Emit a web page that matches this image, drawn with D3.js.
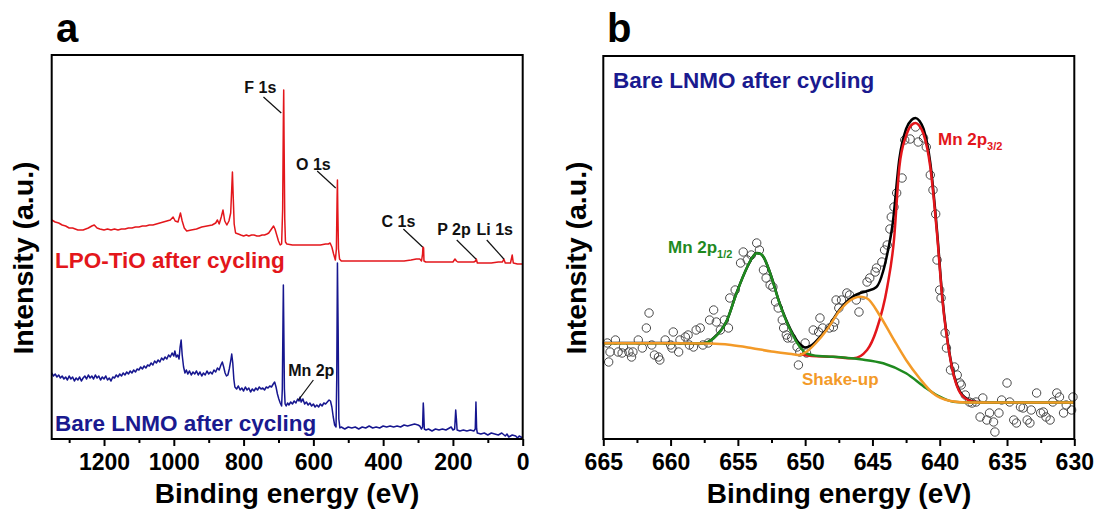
<!DOCTYPE html>
<html>
<head>
<meta charset="utf-8">
<script src="https://cdn.jsdelivr.net/npm/d3@7/dist/d3.min.js"></script>
<style>
  body { margin: 0; background: #fff; }
  text { font-family: Arial, "Liberation Sans", sans-serif; font-weight: bold; }
</style>
</head>
<body>
<div id="chart"></div>
<script>
// Page size
var w = 1097;
var h = 514;

// ---- Panel a: survey spectra, [binding energy, intensity] ----
const lpoSpectrum = [
  [1350,219],[1340,217],[1330,216],[1320,214],[1310,213],[1300,211],[1290,211],[1275,209],[1260,209],
  [1245,211],[1235,213],[1228,214],[1220,211],[1212,210],[1200,209],[1190,210],[1180,209],[1170,210],
  [1160,209],[1150,210],[1140,210],[1130,211],[1120,211],[1110,212],[1100,212],[1090,213],[1080,213],
  [1070,214],[1060,214],[1050,215],[1040,216],[1030,217],[1020,218],[1010,219],[1002,222],[996,218],
  [988,217],[981,226],[976,218],[970,211],[963,208],[950,209],[935,210],[920,212],[905,213],[890,214],
  [880,216],[875,219],[870,215],[864,222],[859,229],[854,218],[848,214],[842,218],[837,226],[834,250],
  [832,267],[830,245],[827,215],[823,206],[815,205],[808,204],[800,203],[792,204],[785,203],[777,204],
  [770,204],[762,203],[755,203],[747,204],[740,204],[733,205],[728,206],[720,210],[714,213],[710,210],
  [705,204],[700,198],[695,194],[691,195],[688,230],[686,320],[685,349],[684,300],[682,220],[680,197],
  [676,195],[660,194],[640,194],[620,194],[600,194],[580,194],[565,195],[557,195],[552,196],[547,192],
  [542,185],[537,179],[534,190],[532,240],[531,259],[530,230],[528,190],[525,180],[520,178],[500,178],
  [460,178],[420,178],[380,178],[340,178],[320,179],[305,180],[295,180],[290,178],[287,185],[286,192],
  [284,191],[283,178],[278,177],[260,177],[240,177],[220,177],[200,177],[194,180],[190,178],[186,177],
  [160,177],[140,177],[135,178],[133,180],[130,176],[110,176],[90,176],[70,177],[58,177],[54,180],
  [50,176],[35,176],[30,184],[27,176],[15,175],[5,175],[0,175]
];

const lnmoSpectrum = [
  [1350,66],[1345,63],[1340,65],[1335,62],[1330,64],[1325,61],[1320,63],[1315,60],[1310,62],[1305,59],
  [1300,63],[1295,60],[1290,62],[1285,58],[1280,61],[1275,59],[1270,62],[1265,58],[1260,61],[1255,63],
  [1250,60],[1245,64],[1240,61],[1235,63],[1230,60],[1225,64],[1220,61],[1215,63],[1210,59],[1205,62],
  [1200,60],[1195,63],[1190,59],[1185,61],[1180,58],[1175,62],[1170,61],[1165,64],[1160,62],[1155,65],
  [1150,63],[1145,66],[1140,64],[1135,67],[1130,65],[1125,68],[1120,66],[1115,69],[1110,67],[1105,70],
  [1100,69],[1095,72],[1090,70],[1085,73],[1080,71],[1075,74],[1070,73],[1065,76],[1060,74],[1055,78],
  [1050,76],[1045,79],[1040,77],[1035,81],[1030,79],[1025,82],[1020,80],[1015,84],[1010,82],[1005,86],
  [1000,83],[997,88],[993,82],[989,84],[985,80],[982,92],[979,99],[976,84],[972,72],[968,66],[964,69],
  [960,65],[955,68],[950,64],[945,67],[940,65],[935,68],[930,64],[925,67],[920,63],[915,66],[910,64],
  [905,68],[900,65],[895,67],[890,65],[885,69],[880,67],[875,71],[870,69],[865,74],[861,77],[857,72],
  [853,66],[849,63],[845,64],[841,70],[837,78],[834,85],[831,76],[828,60],[825,52],[820,50],[815,53],
  [810,49],[805,51],[800,48],[795,52],[790,49],[785,51],[780,47],[775,50],[770,48],[765,51],[760,49],
  [755,52],[750,50],[745,51],[740,49],[735,52],[730,51],[725,53],[720,52],[715,55],[711,57],[707,52],
  [703,45],[699,40],[695,36],[691,33],[689,50],[687,120],[686,154],[685,120],[683,50],[681,35],[678,33],
  [674,36],[670,34],[665,37],[660,35],[655,38],[650,36],[645,40],[641,38],[638,42],[635,37],[630,40],
  [625,35],[620,37],[615,34],[610,36],[605,33],[600,35],[595,32],[590,34],[585,32],[580,35],[575,33],
  [570,36],[565,35],[560,37],[555,39],[551,38],[547,32],[543,22],[539,14],[535,12],[533,60],[531,176],
  [529,110],[527,20],[524,11],[520,12],[510,10],[500,12],[490,11],[480,12],[470,10],[460,12],[450,11],
  [440,13],[430,11],[420,12],[410,11],[400,13],[390,12],[380,13],[370,12],[360,13],[350,12],[340,14],
  [330,13],[320,14],[310,15],[300,14],[295,13],[290,10],[287,12],[285,36],[284,30],[282,10],[277,9],
  [270,10],[260,8],[250,10],[240,9],[230,10],[220,9],[210,11],[205,12],[200,9],[195,10],[192,29],
  [190,20],[188,9],[180,8],[170,9],[160,8],[150,9],[140,8],[136,10],[134,37],[132,10],[130,6],[120,5],
  [110,6],[100,4],[90,6],[80,5],[70,4],[60,6],[50,3],[45,5],[40,2],[30,4],[20,3],[15,1],[10,3],[5,2],[0,1]
];

// peak labels: text, leader end (E, I), leader start (E, I), text centre (E, I)
const peakLabels = [
  { text: "F 1s",  end: [692, 326], start: [743, 342], at: [752, 346] },
  { text: "O 1s",  end: [536, 251], start: [589, 268], at: [600, 269] },
  { text: "C 1s",  end: [287, 192], start: [342, 210], at: [356, 212] },
  { text: "P 2p",  end: [134, 180], start: [189, 199], at: [197, 204] },
  { text: "Li 1s", end: [54, 180],  start: [103, 199], at: [80, 204] },
  { text: "Mn 2p", end: [643, 39],  start: [600, 59],  at: [606, 63] }
];

const aMajorTicks = [1200, 1000, 800, 600, 400, 200, 0];
const aMinorTicks = [1300, 1100, 900, 700, 500, 300, 100];

// ---- Panel b: Mn 2p region, [binding energy, intensity] ----
const mnPoints = [
  [664.7,96],[664.6,77],[664.5,87],[664.1,99],[663.9,87],[663.6,86],[663.5,92],[663.1,87],[662.9,82],
  [662.8,87],[662.4,99],[662.1,91],[661.8,111],[661.6,126],[661.4,94],[661.2,84],[660.9,82],[660.8,79],
  [660.4,99],[660.0,94],[659.9,91],[659.8,107],[659.4,87],[659.3,99],[658.9,102],[658.7,104],[658.6,94],
  [658.3,92],[658.1,109],[657.8,111],[657.6,94],[657.2,96],[657.1,119],[656.8,129],[656.6,117],[656.3,109],
  [656.0,119],[655.7,111],[655.6,141],[655.2,149],[654.8,176],[654.6,187],[654.3,179],[654.0,184],
  [653.6,196],[653.4,189],[653.1,169],[652.9,161],[652.6,154],[652.4,152],[652.2,137],[652.0,131],
  [651.7,119],[651.6,111],[651.4,104],[651.3,101],[651.0,101],[650.6,92],[650.5,74],[650.4,87],
  [650.0,96],[649.9,86],[649.4,109],[649.0,107],[648.9,121],[648.7,111],[648.2,111],[647.9,112],
  [647.8,117],[647.7,139],[647.5,131],[647.3,139],[646.9,146],[646.7,144],[646.2,139],[646.0,127],
  [645.7,144],[645.4,157],[645.2,161],[644.8,167],[644.7,171],[644.3,177],[644.1,189],[643.9,194],
  [643.7,210],[643.6,222],[643.4,232],[643.2,246],[642.8,261],[642.6,299],[642.2,300],[641.8,312],
  [641.6,297],[641.2,301],[641.0,292],[640.7,264],[640.5,249],[640.3,225],[640.2,179],[640.0,149],
  [639.9,141],[639.6,106],[639.5,91],[639.2,69],[638.9,72],[638.7,64],[638.5,56],[638.4,54],[638.1,44],
  [637.8,37],[637.6,36],[637.3,37],[637.0,22],[636.8,41],[636.5,19],[636.3,26],[636.0,17],[635.9,7],
  [635.6,26],[635.4,39],[635.0,56],[634.8,37],[634.5,19],[634.3,16],[634.0,32],[633.8,31],[633.5,19],
  [633.3,16],[633.2,29],[632.8,46],[632.5,26],[632.3,27],[632.1,22],[631.8,19],[631.6,37],[631.3,46],
  [631.1,42],[630.8,26],[630.6,34],[630.2,29],[630.1,42]
];

const envelopeFit = [
  [665,96],[660,96],[657.6,95.5],[656.8,101],[655.8,119],[655.1,146],[654.3,172],[653.9,182],[653.6,186],
  [653.3,185],[653.1,182],[652.6,166],[651.9,136],[651.1,110],[650.4,95],[650.0,91.5],[649.5,94],
  [648.9,102],[648.4,110],[647.4,130],[646.4,143],[645.9,146],[645.4,148],[644.7,152],[644.2,168],
  [643.9,185],[643.5,215],[643.0,280],[642.5,310],[642.1,319],[641.8,321],[641.5,318],[641.2,310],
  [640.7,276],[640.2,208],[639.8,141],[639.2,80],[638.6,50],[637.9,39.5],[637.3,37],[635,36.5],[630,36.5]
];

const mn32Fit = [
  [650.4,85],[649.5,83],[648,82.3],[646.4,80.7],[645.4,89],[644.7,109],[643.9,152],[643.4,199],
  [643.0,272],[642.5,303],[642.1,314],[641.8,316],[641.5,313],[641.2,305],[640.7,272],[640.2,205],
  [639.8,139],[639.2,79],[638.6,49],[637.9,39],[637.3,37],[636.5,36.5]
];

const mn12Fit = [
  [665,95.7],[658,95.7],[657.6,95.5],[656.8,100.7],[655.8,119],[655.1,145.7],[654.3,172.3],[653.9,182],
  [653.6,185.7],[653.3,185],[653.1,182.3],[652.6,165.7],[651.9,135.7],[651.1,109],[650.4,92.3],
  [649.9,85.7],[649,83],[647.9,82.3],[645.9,79.7],[644.2,75.7],[642.5,65.7],[641,50.7],[640,42.3],
  [639,37.3],[638,36.5],[630,36.5]
];

const shakeUpFit = [
  [665,95.7],[660,95.7],[657,95.5],[655.5,94],[654,91],[652.5,87.5],[651,85],[650.4,84],[649.9,87.3],
  [649.2,96],[648.4,109],[647.4,129],[646.4,140.7],[645.9,142.3],[645.4,140.7],[644.4,122.3],[643.4,99],
  [642.5,79],[641.5,60.7],[640.5,45.7],[639.2,38],[638,36.5],[635,36.5],[630,36.5]
];

const bMajorTicks = [665, 660, 655, 650, 645, 640, 635, 630];
const bMinorTicks = [662.5, 657.5, 652.5, 647.5, 642.5, 637.5, 632.5];

function drawFrame(svg, x0, y0, x1, y1) {
  svg.append("rect")
    .attr("x", x0)
    .attr("y", y0)
    .attr("width", x1 - x0)
    .attr("height", y1 - y0)
    .attr("fill", "none")
    .attr("stroke", "#000")
    .attr("stroke-width", 2);
}

function drawXAxis(svg, xScale, yPos, major, minor) {
  const majorAxis = d3.axisBottom(xScale)
    .tickValues(major)
    .tickSize(7)
    .tickPadding(8)
    .tickFormat(d3.format("d"));

  const g = svg.append("g")
    .attr("transform", "translate(0," + yPos + ")")
    .call(majorAxis);
  g.select(".domain").remove();
  g.selectAll("line").attr("stroke", "#000").attr("stroke-width", 2);
  g.selectAll("text")
    .style("font-size", "23px")
    .style("font-weight", "bold")
    .style("font-family", "Arial, 'Liberation Sans', sans-serif")
    .attr("fill", "#000");

  const minorAxis = d3.axisBottom(xScale)
    .tickValues(minor)
    .tickSize(4)
    .tickFormat("");
  const gm = svg.append("g")
    .attr("transform", "translate(0," + yPos + ")")
    .call(minorAxis);
  gm.select(".domain").remove();
  gm.selectAll("line").attr("stroke", "#000").attr("stroke-width", 2);
}

function axisTitles(svg, cx, cy, ylabelX) {
  svg.append("text")
    .attr("x", cx)
    .attr("y", 503)
    .attr("text-anchor", "middle")
    .style("font-size", "28px")
    .text("Binding energy (eV)");

  svg.append("text")
    .attr("transform", "translate(" + ylabelX + "," + cy + ") rotate(-90)")
    .attr("text-anchor", "middle")
    .style("font-size", "28.5px")
    .text("Intensity (a.u.)");
}

function createLine(svg, data, xScale, yScale, color, width, curve) {
  const line = d3.line()
    .x(d => xScale(d[0]))
    .y(d => yScale(d[1]))
    .curve(curve || d3.curveLinear);

  svg.append("path")
    .datum(data)
    .attr("fill", "none")
    .attr("stroke", color)
    .attr("stroke-width", width)
    .attr("stroke-linejoin", "round")
    .attr("d", line);
}

function subscriptLabel(svg, x, y, main, sub, color) {
  const t = svg.append("text")
    .attr("x", x)
    .attr("y", y)
    .attr("fill", color)
    .style("font-size", "17px");
  t.append("tspan").text(main);
  t.append("tspan")
    .attr("dy", 5)
    .style("font-size", "11px")
    .text(sub);
}

function main() {
  const svg = d3.select("#chart")
    .append("svg")
    .attr("width", w)
    .attr("height", h);

  // ---------- panel a ----------
  const xA = d3.scaleLinear().domain([1350, 0]).range([51.7, 522.7]);
  const yA = d3.scaleLinear().domain([0, 384]).range([439, 55]);

  createLine(svg, lpoSpectrum, xA, yA, "#e3161b", 1.5);
  createLine(svg, lnmoSpectrum, xA, yA, "#16168f", 1.5);

  peakLabels.forEach(function(p) {
    svg.append("line")
      .attr("x1", xA(p.start[0]))
      .attr("y1", yA(p.start[1]))
      .attr("x2", xA(p.end[0]))
      .attr("y2", yA(p.end[1]))
      .attr("stroke", "#111")
      .attr("stroke-width", 1.2);
    svg.append("text")
      .attr("x", xA(p.at[0]))
      .attr("y", yA(p.at[1]))
      .attr("text-anchor", "middle")
      .style("font-size", "16px")
      .attr("fill", "#111")
      .text(p.text);
  });

  svg.append("text")
    .attr("x", 55)
    .attr("y", 268)
    .attr("fill", "#e3161b")
    .style("font-size", "22.5px")
    .text("LPO-TiO after cycling");

  svg.append("text")
    .attr("x", 55)
    .attr("y", 431)
    .attr("fill", "#1a1a8f")
    .style("font-size", "22.5px")
    .text("Bare LNMO after cycling");

  drawFrame(svg, 51.7, 55, 522.7, 439);
  drawXAxis(svg, xA, 439, aMajorTicks, aMinorTicks);
  axisTitles(svg, 287, 258, 33);

  svg.append("text")
    .attr("x", 56)
    .attr("y", 42)
    .style("font-size", "40px")
    .text("a");

  // ---------- panel b ----------
  const xB = d3.scaleLinear().domain([665, 630]).range([603.3, 1074.3]);
  const yB = d3.scaleLinear().domain([0, 383]).range([439, 56]);

  svg.append("g")
    .selectAll("circle")
    .data(mnPoints)
    .enter()
    .append("circle")
    .attr("cx", d => xB(d[0]))
    .attr("cy", d => yB(d[1]))
    .attr("r", 4.2)
    .attr("fill", "none")
    .attr("stroke", "#4a4a4a")
    .attr("stroke-width", 1);

  const smooth = d3.curveMonotoneX;
  createLine(svg, envelopeFit, xB, yB, "#000", 2.5, smooth);
  createLine(svg, mn32Fit, xB, yB, "#e3161b", 2.5, smooth);
  createLine(svg, mn12Fit, xB, yB, "#1f8a1f", 2.5, smooth);
  createLine(svg, shakeUpFit, xB, yB, "#f39a28", 2.5, smooth);

  svg.append("text")
    .attr("x", 613)
    .attr("y", 87.5)
    .attr("fill", "#1a1a8f")
    .style("font-size", "22.5px")
    .text("Bare LNMO after cycling");

  subscriptLabel(svg, 938, 145, "Mn 2p", "3/2", "#e3161b");
  subscriptLabel(svg, 668, 253, "Mn 2p", "1/2", "#1f8a1f");

  svg.append("text")
    .attr("x", 802)
    .attr("y", 385)
    .attr("fill", "#f39a28")
    .style("font-size", "17px")
    .text("Shake-up");

  drawFrame(svg, 603.3, 56, 1074.3, 439);
  drawXAxis(svg, xB, 439, bMajorTicks, bMinorTicks);
  axisTitles(svg, 839, 258, 586);

  svg.append("text")
    .attr("x", 607)
    .attr("y", 42)
    .style("font-size", "40px")
    .text("b");
}

window.onload = function() {
  main();
};
</script>
</body>
</html>
